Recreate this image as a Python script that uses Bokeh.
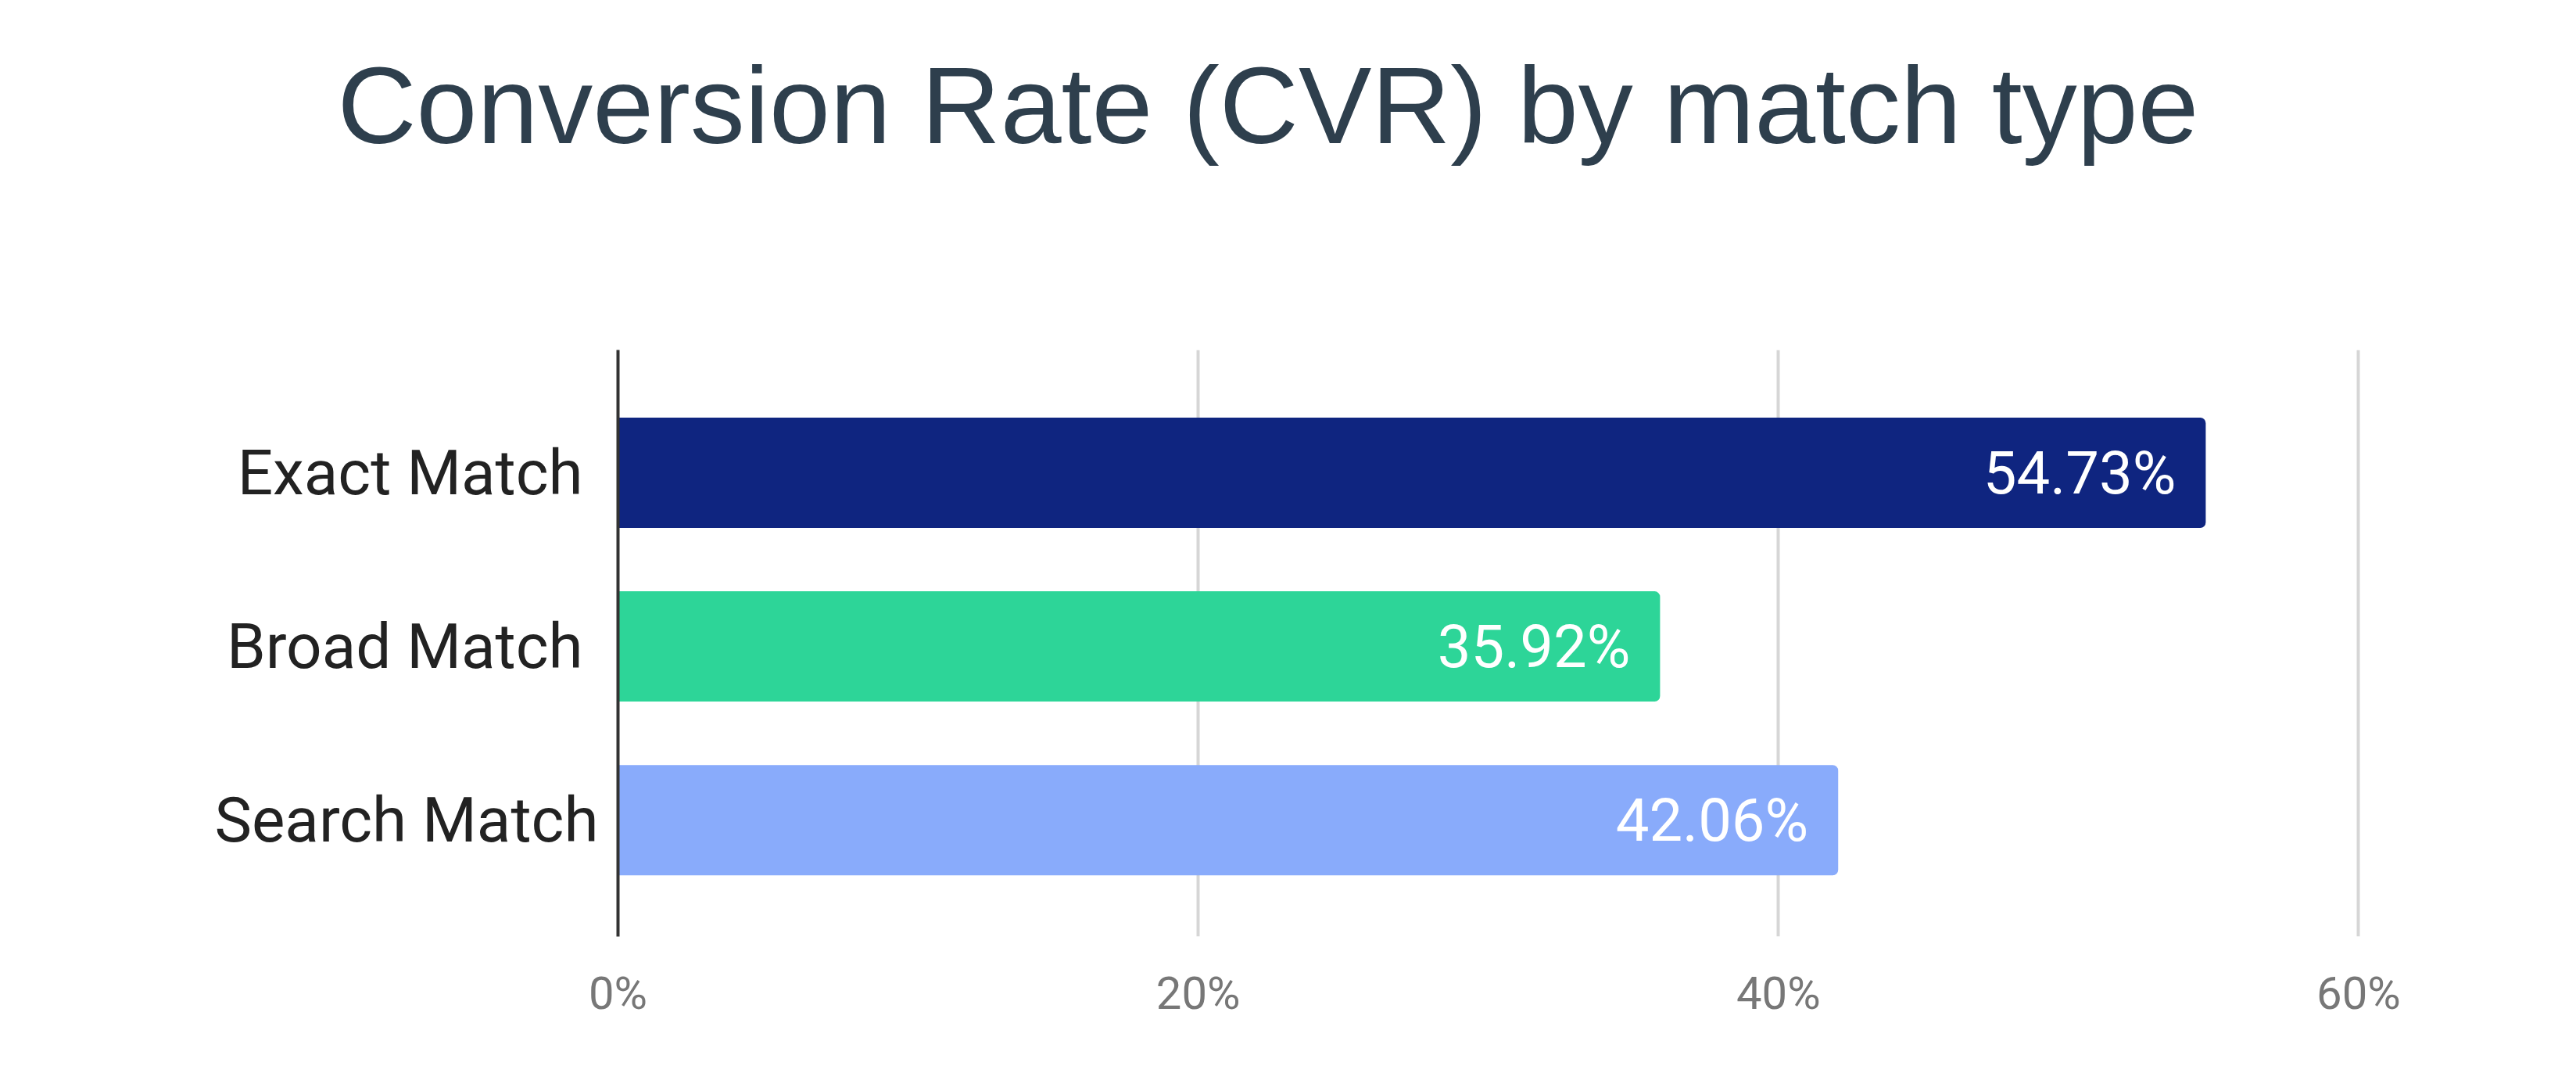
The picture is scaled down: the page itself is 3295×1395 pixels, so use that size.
from bokeh.plotting import figure
from bokeh.models import Range1d, FixedTicker, PrintfTickFormatter, ColumnDataSource, Title
from bokeh.core.properties import value
from bokeh.embed import file_html
from bokeh.resources import INLINE

title_text = "Conversion Rate (CVR) by match type"
categories = ["Exact  Match", "Broad  Match", "Search Match"]
cvr_values = [54.73, 35.92, 42.06]
bar_colors = ["#0F2580", "#2DD598", "#89ABFB"]
x_ticks = [0, 20, 40, 60]

n = len(categories)
ypos = [n - 1 - i for i in range(n)]
labels = [f"{v:.2f}%" for v in cvr_values]

src = ColumnDataSource(dict(y=ypos, v=cvr_values, c=bar_colors, lab=labels))

p = figure(width=3279, height=1379, output_backend="svg", toolbar_location=None,
           x_range=Range1d(0, 60.5), y_range=Range1d(-0.67, n - 1 + 0.707),
           min_border_left=790, min_border_right=244, min_border_top=447,
           min_border_bottom=182, background_fill_color="white",
           border_fill_color="white", title=None)
p.outline_line_color = None

# invisible spacer between the title and the plot area
spacer = Title(text=" ", text_font_size="10px", standoff=217, text_color="white")
p.add_layout(spacer, "above")
title = Title(text=title_text, text_font="Liberation Sans", text_font_size="140px",
              text_font_style="normal", text_color="#2E3F4D", align="left",
              offset=-359, standoff=10)
p.add_layout(title, "above")

p.hbar(y="y", left=0, right="v", height=0.635, fill_color="c", line_color=None,
       border_radius=(0, 7, 7, 0), source=src)
p.text(x="v", y="y", text="lab", x_offset=-38, text_align="right",
       text_baseline="middle", text_color="white", text_font=value("Roboto"),
       text_font_size="76px", source=src)

p.xaxis.ticker = FixedTicker(ticks=x_ticks)
p.xaxis.formatter = PrintfTickFormatter(format="%d%%")
p.xaxis.axis_line_color = None
p.xaxis.major_tick_line_color = None
p.xaxis.minor_tick_line_color = None
p.xaxis.major_label_text_font = "Roboto"
p.xaxis.major_label_text_font_size = "58px"
p.xaxis.major_label_text_color = "#777777"
p.xaxis.major_label_standoff = 32

p.yaxis.ticker = FixedTicker(ticks=ypos)
p.yaxis.major_label_overrides = {y: c for y, c in zip(ypos, categories)}
p.yaxis.axis_line_color = "#333333"
p.yaxis.axis_line_width = 4
p.yaxis.major_tick_line_color = None
p.yaxis.major_tick_out = 0
p.yaxis.major_tick_in = 0
p.yaxis.minor_tick_line_color = None
p.yaxis.major_label_text_font = "Roboto"
p.yaxis.major_label_text_font_size = "80px"
p.yaxis.major_label_text_color = "#222222"
p.yaxis.major_label_standoff = 25

p.xgrid.ticker = FixedTicker(ticks=x_ticks[1:])
p.xgrid.grid_line_color = "#D6D6D6"
p.xgrid.grid_line_width = 4
p.ygrid.grid_line_color = None

open("out.html", "w").write(file_html(p, INLINE))
